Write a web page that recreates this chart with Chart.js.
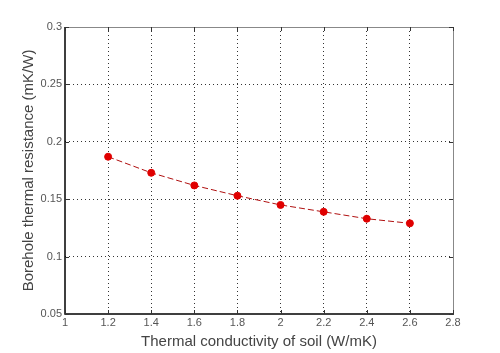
<!DOCTYPE html>
<html>
<head>
<meta charset="utf-8">
<script src="https://cdn.jsdelivr.net/npm/chart.js@4"></script>
<style>
  html, body { margin: 0; padding: 0; background: #fff; }
  #wrap { width: 500px; height: 353px; }
</style>
</head>
<body>
<div id="wrap"><canvas id="chart" width="500" height="353"></canvas></div>
<script>
// данные с графика
const conductivity = [1.2, 1.4, 1.6, 1.8, 2.0, 2.2, 2.4, 2.6];
const resistance = [0.187, 0.173, 0.162, 0.153, 0.145, 0.139, 0.133, 0.129];
const xTicks = [1, 1.2, 1.4, 1.6, 1.8, 2, 2.2, 2.4, 2.6, 2.8];
const yTicks = [0.05, 0.1, 0.15, 0.2, 0.25, 0.3];

const fontFamily = "'Liberation Sans', 'DejaVu Sans', Arial, sans-serif";

// рамка и внутренние засечки как в matlab
const frameBox = {
  id: 'frameBox',
  afterDatasetsDraw(chart) {
    const { ctx, chartArea: { left, top, right, bottom }, scales: { x, y } } = chart;
    ctx.save();
    ctx.lineWidth = 1;
    ctx.strokeStyle = '#888';
    ctx.beginPath();
    ctx.moveTo(left, top + 0.5);
    ctx.lineTo(right + 0.5, top + 0.5);
    ctx.lineTo(right + 0.5, bottom);
    ctx.stroke();
    ctx.strokeStyle = '#000';
    ctx.lineWidth = 1.5;
    ctx.beginPath();
    ctx.moveTo(left, top);
    ctx.lineTo(left, bottom);
    ctx.lineTo(right + 1, bottom);
    ctx.stroke();
    ctx.lineWidth = 1;
    ctx.strokeStyle = '#333';
    xTicks.forEach((v) => {
      const px = Math.round(x.getPixelForValue(v)) + 0.5;
      ctx.beginPath();
      ctx.moveTo(px, bottom);
      ctx.lineTo(px, bottom - 4);
      ctx.moveTo(px, top);
      ctx.lineTo(px, top + 4);
      ctx.stroke();
    });
    yTicks.forEach((v) => {
      const py = Math.round(y.getPixelForValue(v)) + 0.5;
      ctx.beginPath();
      ctx.moveTo(left, py);
      ctx.lineTo(left + 4, py);
      ctx.moveTo(right, py);
      ctx.lineTo(right - 4, py);
      ctx.stroke();
    });
    ctx.restore();
  },
};

const chart = new Chart(document.getElementById('chart'), {
  type: 'scatter',
  data: {
    datasets: [
      {
        data: conductivity.map((c, i) => ({ x: c, y: resistance[i] })),
        showLine: true,
        borderColor: '#b01010',
        borderWidth: 1,
        borderDash: [6, 3],
        pointBackgroundColor: '#e00000',
        pointBorderColor: '#e00000',
        pointRadius: 3.5,
        tension: 0,
      },
    ],
  },
  options: {
    responsive: false,
    animation: false,
    layout: { padding: { top: 27, right: 47, left: 20, bottom: 0 } },
    scales: {
      x: {
        type: 'linear',
        min: 1,
        max: 2.8,
        afterBuildTicks: (axis) => { axis.ticks = xTicks.map((v) => ({ value: v })); },
        afterFit: (axis) => { axis.height = 39; },
        ticks: {
          color: '#555',
          font: { family: fontFamily, size: 11 },
          padding: 2,
          callback: (v) => String(v),
        },
        grid: {
          color: (c) => (c.index === 0 || c.index === xTicks.length - 1 ? 'rgba(0,0,0,0)' : '#333'),
          lineWidth: 1,
          drawTicks: false,
        },
        border: { display: false, dash: [1, 3] },
        title: {
          display: true,
          text: 'Thermal conductivity of soil (W/mK)',
          color: '#444',
          font: { family: fontFamily, size: 15 },
          padding: { top: 0, bottom: 2 },
        },
      },
      y: {
        type: 'linear',
        min: 0.05,
        max: 0.3,
        afterBuildTicks: (axis) => { axis.ticks = yTicks.map((v) => ({ value: v })); },
        afterFit: (axis) => { axis.width = 45; },
        ticks: {
          color: '#555',
          font: { family: fontFamily, size: 11 },
          padding: 3,
          callback: (v) => String(v),
        },
        grid: {
          color: (c) => (c.index === 0 || c.index === yTicks.length - 1 ? 'rgba(0,0,0,0)' : '#333'),
          lineWidth: 1,
          drawTicks: false,
        },
        border: { display: false, dash: [1, 3] },
        title: {
          display: true,
          text: 'Borehole thermal resistance (mK/W)',
          color: '#444',
          font: { family: fontFamily, size: 15 },
          padding: { top: 0, bottom: 0 },
        },
      },
    },
    plugins: {
      legend: { display: false },
      tooltip: { enabled: false },
    },
  },
  plugins: [frameBox],
});
</script>
</body>
</html>
